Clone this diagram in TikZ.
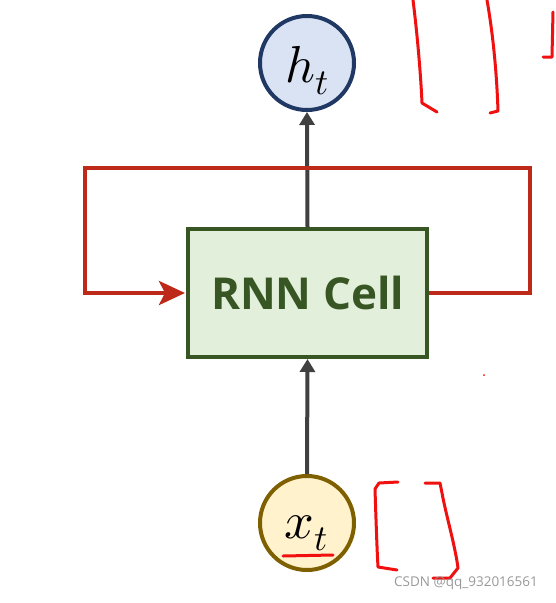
\documentclass[tikz,border=0pt]{standalone}
\usepackage{fontspec}
\usepackage{unicode-math}
\setsansfont{Open Sans}
\setmathfont{Latin Modern Math}
\usetikzlibrary{arrows.meta}
\definecolor{hline}{HTML}{203864}
\definecolor{hfill}{HTML}{DAE3F3}
\definecolor{xline}{HTML}{7F6000}
\definecolor{xfill}{HTML}{FFF2CC}
\definecolor{cellline}{HTML}{375623}
\definecolor{cellfill}{HTML}{E2EFDA}
\definecolor{flowgray}{HTML}{404040}
\definecolor{fbred}{HTML}{BE2A1A}
\definecolor{inkred}{HTML}{F01010}
\tikzset{
    state/.style = {draw, circle, line width=4,
        minimum size=94, inner sep=0},
    statelabel/.style = {anchor=base, inner sep=0,
        font=\fontsize{52}{52}\selectfont},
    cellbox/.style = {draw=cellline, fill=cellfill, rectangle, line width=4,
        minimum width=239, minimum height=128,
        text=cellline, font=\sffamily\bfseries\fontsize{44}{44}\selectfont},
    flow/.style = {draw=flowgray, line width=4, -{Triangle[length=13,width=15]}},
    feedback/.style = {draw=fbred, line width=4, line join=miter,
        -{Stealth[length=26,width=24,inset=6]}},
    ink/.style = {draw=inkred, line width=3, line cap=round, line join=round}
}
\begin{document}
\begin{tikzpicture}[x=1pt,y=-1pt]
    \useasboundingbox[fill=white] (0,0) rectangle (555,603);
    \node[state,draw=hline,fill=hfill] (ht) at (307,63) {};
    \node[statelabel] (htlabel) at (307,82) {$h_t$};
    \node[cellbox] (cell) at (307.5,293) {RNN Cell};
    \node[state,draw=xline,fill=xfill] (xt) at (307,523) {};
    \node[statelabel] (xtlabel) at (306,538) {$x_t$};
    \coordinate (fbR) at (530,168);
    \coordinate (fbL) at (85,168);
    \draw [flow] (cell.north) -- (ht.south);
    \draw [flow] (xt.north) -- (cell.south);
    \draw [feedback,shorten >=1] (cell.east) -| (fbR) -- (fbL) |- (cell.west);
    % handwritten marks
    \draw [ink] (283,556) -- (333,555);
    \draw [ink] (413,0) .. controls (418,40) and (421,80) .. (422,103) -- (437,112);
    \draw [ink] (487,0) .. controls (494,40) and (497,80) .. (498,111) -- (490,113);
    \draw [ink] (553,12) -- (552,57) -- (543,57);
    \draw [ink] (398,482) -- (379,483) -- (375,489) .. controls (376,520) and (377,550) .. (378,567) -- (397,570);
    \draw [ink] (425,483) -- (440,483) -- (442,493) .. controls (446,515) and (455,545) .. (458,568) -- (450,578) -- (433,578);
    \fill [inkred] (484,375) circle (1);
    \node[text=gray!80, font=\sffamily\fontsize{13.5}{14}\selectfont] (mark) at (466,583) {CSDN @qq\_932016561};
\end{tikzpicture}
\end{document}
